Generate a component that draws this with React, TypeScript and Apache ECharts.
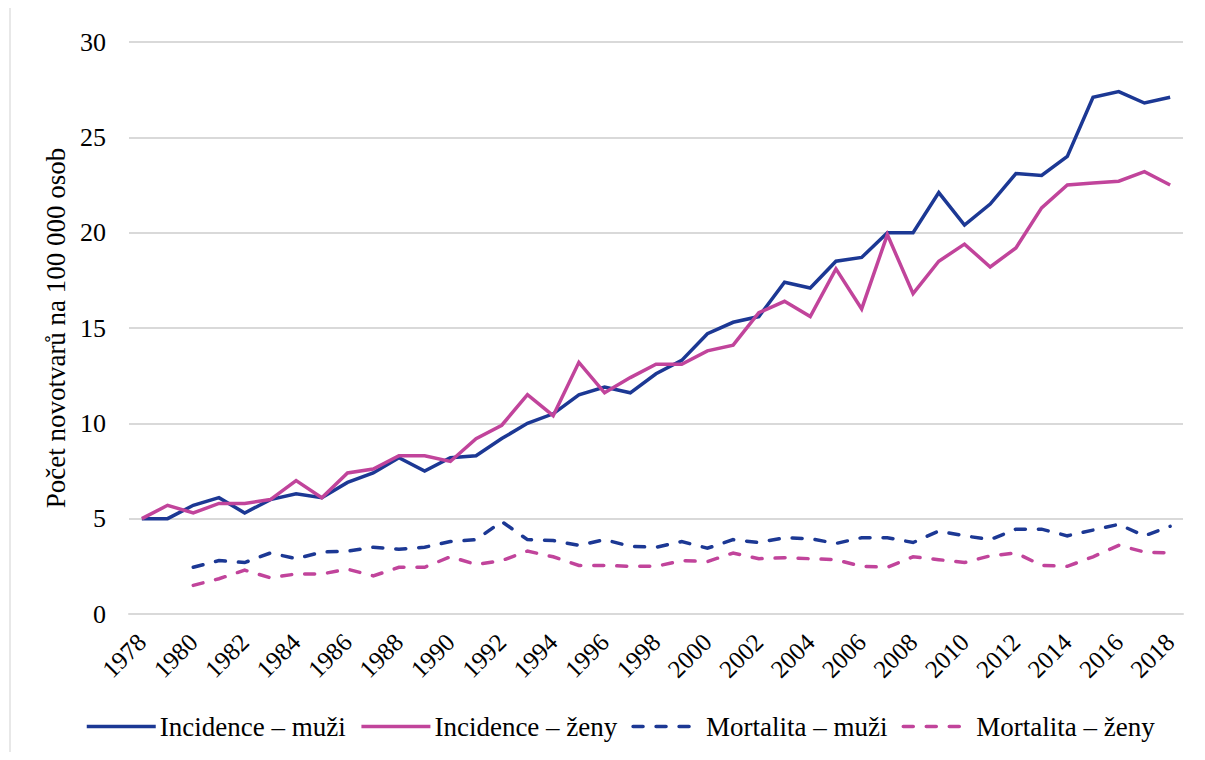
import React, { useEffect, useRef } from "react";
import * as echarts from "echarts";

const years: string[] = [];
for (let y = 1978; y <= 2018; y++) years.push(String(y));

const incidenceMuzi = [
  5.0, 5.0, 5.7, 6.1, 5.3, 6.0, 6.3, 6.1, 6.9, 7.4, 8.2, 7.5, 8.2, 8.3, 9.2, 10.0,
  10.5, 11.5, 11.9, 11.6, 12.6, 13.3, 14.7, 15.3, 15.6, 17.4, 17.1, 18.5, 18.7,
  20.0, 20.0, 22.1, 20.4, 21.5, 23.1, 23.0, 24.0, 27.1, 27.4, 26.8, 27.1,
];
const incidenceZeny = [
  5.0, 5.7, 5.3, 5.8, 5.8, 6.0, 7.0, 6.1, 7.4, 7.6, 8.3, 8.3, 8.0, 9.2, 9.9, 11.5,
  10.4, 13.2, 11.6, 12.4, 13.1, 13.1, 13.8, 14.1, 15.8, 16.4, 15.6, 18.1, 16.0,
  19.9, 16.8, 18.5, 19.4, 18.2, 19.2, 21.3, 22.5, 22.6, 22.7, 23.2, 22.5,
];
const mortalitaMuzi = [
  null, null, 2.45, 2.8, 2.7, 3.2, 2.9, 3.25, 3.3, 3.5, 3.4, 3.5, 3.8, 3.9, 4.85,
  3.9, 3.85, 3.6, 3.9, 3.55, 3.5, 3.8, 3.45, 3.9, 3.75, 4.0, 3.95, 3.7, 4.0, 4.0,
  3.75, 4.35, 4.1, 3.9, 4.45, 4.45, 4.1, 4.4, 4.7, 4.1, 4.6,
];
const mortalitaZeny = [
  null, null, 1.5, 1.85, 2.3, 1.9, 2.1, 2.1, 2.35, 2.0, 2.45, 2.45, 3.0, 2.6, 2.8,
  3.3, 3.0, 2.55, 2.55, 2.5, 2.5, 2.8, 2.75, 3.2, 2.9, 2.95, 2.9, 2.85, 2.5, 2.45,
  3.0, 2.85, 2.7, 3.05, 3.2, 2.55, 2.5, 3.0, 3.6, 3.25, 3.2,
];

const BLUE = "#1C3894";
const PINK = "#C1449B";
const FONT = "'Liberation Serif', 'Times New Roman', serif";

export default function App() {
  const ref = useRef<HTMLDivElement>(null);
  useEffect(() => {
    if (!ref.current) return;
    const chart = echarts.init(ref.current, undefined, { renderer: "svg" });
    const mk = (name: string, data: any[], color: string, dashed: boolean) => ({
      name,
      type: "line",
      data,
      symbol: "none",
      connectNulls: false,
      lineStyle: {
        color,
        width: 3.5,
        type: dashed ? [10, 13] : "solid",
        cap: dashed ? "round" : "butt",
        join: "miter",
      },
      itemStyle: { color },
    });
    chart.setOption({
      animation: false,
      backgroundColor: "#fff",
      textStyle: { fontFamily: FONT, color: "#000" },
      grid: { left: 129, right: 22, top: 42, bottom: 146, containLabel: false },
      xAxis: {
        type: "category",
        data: years,
        boundaryGap: true,
        axisLine: { show: true, lineStyle: { color: "#d9d9d9", width: 2 } },
        axisTick: { show: false },
        axisLabel: {
          interval: 1,
          rotate: 45,
          fontSize: 25,
          fontFamily: FONT,
          color: "#000",
          margin: 24,
        },
      },
      yAxis: {
        type: "value",
        min: 0,
        max: 30,
        interval: 5,
        name: "Počet novotvarů na 100 000 osob",
        nameLocation: "middle",
        nameGap: 55,
        nameRotate: 90,
        nameTextStyle: { fontSize: 27, fontFamily: FONT, color: "#000" },
        axisLine: { show: false },
        axisTick: { show: false },
        axisLabel: { fontSize: 26, fontFamily: FONT, color: "#000", margin: 23 },
        splitLine: { lineStyle: { color: "#d9d9d9", width: 2 } },
      },
      legend: {
        top: 713,
        left: 85,
        padding: 0,
        itemWidth: 69,
        itemHeight: 20,
        itemGap: 14,
        itemStyle: { opacity: 0 },
        lineStyle: { width: 3.5 },
        textStyle: { fontSize: 27, fontFamily: FONT, color: "#000", padding: [0, 0, 0, -1] },
        data: [
          "Incidence – muži",
          "Incidence – ženy",
          "Mortalita – muži",
          "Mortalita – ženy",
        ],
      },
      graphic: [
        {
          type: "line",
          shape: { x1: 10, y1: 0, x2: 10, y2: 760 },
          style: { stroke: "#e0e0e0", lineWidth: 1.5 },
        },
      ],
      series: [
        mk("Incidence – muži", incidenceMuzi, BLUE, false),
        mk("Incidence – ženy", incidenceZeny, PINK, false),
        mk("Mortalita – muži", mortalitaMuzi, BLUE, true),
        mk("Mortalita – ženy", mortalitaZeny, PINK, true),
      ],
    });
    return () => chart.dispose();
  }, []);
  return <div ref={ref} style={{ width: 1205, height: 760, margin: -8 }} />;
}
